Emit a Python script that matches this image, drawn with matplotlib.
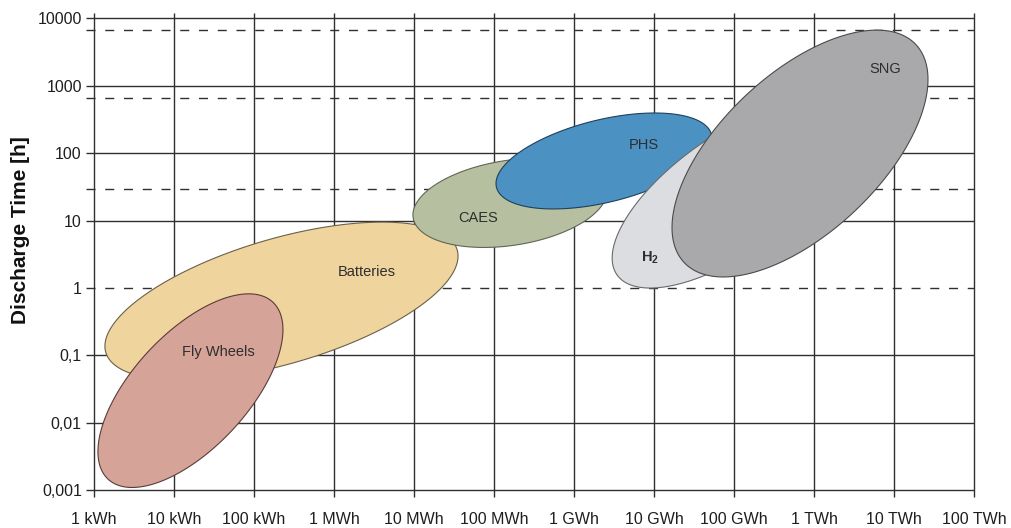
import numpy as np
import matplotlib
matplotlib.use("Agg")
import matplotlib.pyplot as plt
from matplotlib.patches import Polygon
from matplotlib.ticker import NullLocator

plt.rcParams['font.family'] = ['Liberation Sans', 'DejaVu Sans']
plt.rcParams['mathtext.fontset'] = 'custom'
plt.rcParams['mathtext.rm'] = 'Liberation Sans'
plt.rcParams['mathtext.bf'] = 'Liberation Sans:bold'

# Storage technologies: storable energy range (kWh), discharge time range (h)
# and the coupling between the two (tilt of each region)
technologies = ["Batteries", "Fly Wheels", "CAES", "PHS", "H2", "SNG"]
energy_min_kwh = [1.37, 1.12, 9.7e3, 1.06e5, 3.0e6, 1.68e7]
energy_max_kwh = [3.55e4, 230.0, 2.6e6, 5.3e7, 2.8e9, 2.66e10]
time_min_h = [0.043, 0.0011, 4.0, 14.9, 1.0, 1.46]
time_max_h = [9.5, 0.82, 84.0, 395.0, 605.0, 6700.0]
coupling = [0.57, 0.63, 0.27, 0.47, 0.68, 0.60]

energy_ticks = [1, 1e1, 1e2, 1e3, 1e4, 1e5, 1e6, 1e7, 1e8, 1e9, 1e10, 1e11]
energy_tick_labels = ["1 kWh", "10 kWh", "100 kWh", "1 MWh", "10 MWh", "100 MWh",
                      "1 GWh", "10 GWh", "100 GWh", "1 TWh", "10 TWh", "100 TWh"]
time_ticks = [0.001, 0.01, 0.1, 1, 10, 100, 1000, 10000]
time_tick_labels = ["0,001", "0,01", "0,1", "1", "10", "100", "1000", "10000"]
reference_times_h = [1, 29, 660, 6700]

# where each technology name is written (kWh, h)
label_energy = [2585, 35.5, 6.3e4, 7.5e6, 8.9e6, 7.7e9]
label_time = [1.73, 0.112, 10.9, 132, 2.79, 1775]
label_text = ["Batteries", "Fly Wheels", "CAES", "PHS", r"$\mathbf{H_2}$", "SNG"]

fill_colors = ["#efd49e", "#d5a398", "#b6c0a0", "#4b91c2", "#dcdde0", "#a9a9ab"]
edge_colors = ["#6a604a", "#5a3c38", "#5f6654", "#1f3f5c", "#6a6a6a", "#4a4a4a"]

X_LO, X_HI = 10 ** -0.1, 10 ** 11.02
Y_LO, Y_HI = 10 ** -3.1, 10 ** 4.08


def region_outline(emin, emax, tmin, tmax, rho, n=500):
    """Ellipse (in log-log space) inscribed in the given energy/time box."""
    x0, x1 = np.log10(emin), np.log10(emax)
    y0, y1 = np.log10(tmin), np.log10(tmax)
    cx, cy = (x0 + x1) / 2, (y0 + y1) / 2
    w, h = (x1 - x0) / 2, (y1 - y0) / 2
    d = np.arccos(rho)
    t = np.linspace(0, 2 * np.pi, n)
    return np.column_stack([10 ** (cx + w * np.cos(t)), 10 ** (cy + h * np.cos(t - d))])


fig = plt.figure(figsize=(10.11, 5.28), dpi=100)
ax = fig.add_axes([86 / 1011, 31 / 528, 889.6 / 1011, 484 / 528])
ax.set_xscale('log')
ax.set_yscale('log')
ax.set_xlim(X_LO, X_HI)
ax.set_ylim(Y_LO, Y_HI)

grid_color = "#303030"
for e in energy_ticks:
    ax.vlines(e, Y_LO, Y_HI, color=grid_color, lw=1.0, zorder=1, clip_on=False)
for t in time_ticks:
    if t in reference_times_h:
        continue
    ax.hlines(t, X_LO, 1e11, color=grid_color, lw=1.0, zorder=1, clip_on=False)
for t in reference_times_h:
    ax.hlines(t, X_LO, 1e11, color=grid_color, lw=1.0, zorder=1,
              linestyles=(0, (6.5, 7.0)), clip_on=False)

for i, name in enumerate(technologies):
    pts = region_outline(energy_min_kwh[i], energy_max_kwh[i],
                         time_min_h[i], time_max_h[i], coupling[i])
    ax.add_patch(Polygon(pts, closed=True, facecolor=fill_colors[i],
                         edgecolor=edge_colors[i], lw=0.8, zorder=2 + i))

for i in range(len(label_text)):
    ax.text(label_energy[i], label_time[i], label_text[i], fontsize=10.5,
            color="#2e2e2e", ha='center', va='center', zorder=20)

ax.set_xticks(energy_ticks, labels=energy_tick_labels)
ax.set_yticks(time_ticks, labels=time_tick_labels)
ax.xaxis.set_minor_locator(NullLocator())
ax.yaxis.set_minor_locator(NullLocator())
ax.tick_params(axis='x', length=0, pad=10.5, labelsize=11.5, labelcolor="#1e1e1e")
ax.tick_params(axis='y', length=0, pad=3, labelsize=11.5, labelcolor="#1e1e1e")
for s in ax.spines.values():
    s.set_visible(False)

ax.set_ylabel("Discharge Time [h]", fontsize=15, fontweight='bold', color="#111111",
              va='center')
ax.yaxis.set_label_coords((21 - 86) / 889.6, (497 - 230) / 484)

fig.savefig("out.png", dpi=100)
